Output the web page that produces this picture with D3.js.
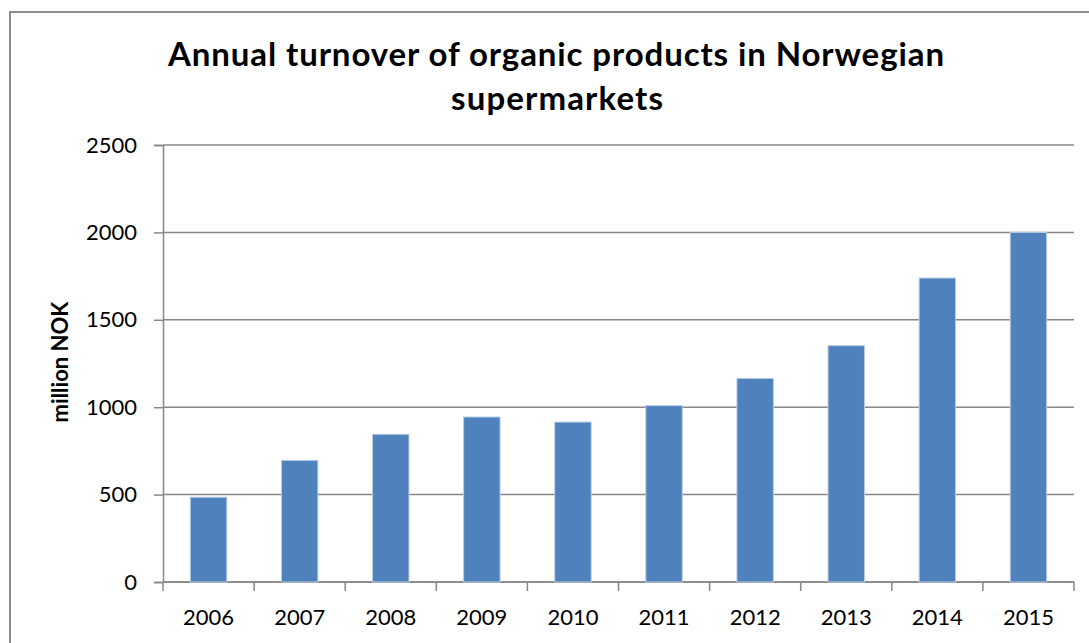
<!DOCTYPE html>
<html>
<head>
<meta charset="utf-8">
<script src="https://cdn.jsdelivr.net/npm/d3@7"></script>
<style>
  body { margin: 0; background: #fff; }
  svg { display: block; font-family: Lato, "Open Sans", sans-serif; }
</style>
</head>
<body>
<svg width="1089" height="643"></svg>
<script>
let years = ["2006", "2007", "2008", "2009", "2010", "2011", "2012", "2013", "2014", "2015"];
let turnover = [485, 696, 845, 944, 915, 1009, 1165, 1352, 1739, 2000];
let yTicks = [0, 500, 1000, 1500, 2000, 2500];

let data = years.map((y, i) => ({ year: y, value: turnover[i] }));

let svg = d3.select("svg");

// chart frame (only left and top edge show in the picture)
svg.append("path")
  .attr("d", "M10,643 L10,12 L1089,12")
  .attr("fill", "none")
  .attr("stroke", "#8c8c8c")
  .attr("stroke-width", 2);

let plotLeft = 163, plotRight = 1074, plotTop = 145, plotBottom = 582;

let xScale = d3.scaleBand()
  .domain(years)
  .range([plotLeft, plotRight])
  .paddingInner(0.6)
  .paddingOuter(0.3);

let yScale = d3.scaleLinear()
  .domain([0, 2500])
  .range([plotBottom, plotTop]);

// gridlines
svg.append("g")
  .selectAll("line")
  .data(yTicks)
  .enter()
  .append("line")
  .attr("x1", plotLeft)
  .attr("x2", plotRight)
  .attr("y1", d => yScale(d))
  .attr("y2", d => yScale(d))
  .attr("stroke", "#878787")
  .attr("stroke-width", 1.5);

// y axis
let yAxis = d3.axisLeft(yScale)
  .tickValues(yTicks)
  .tickFormat(d3.format("d"))
  .tickSize(9)
  .tickPadding(17);
let gy = svg.append("g")
  .attr("transform", "translate(" + plotLeft + ",0)")
  .call(yAxis);
gy.select(".domain").attr("stroke", "#878787").attr("stroke-width", 1.5);
gy.selectAll(".tick line").attr("stroke", "#878787").attr("stroke-width", 1.5);
gy.selectAll("text")
  .attr("font-size", 22)
  .attr("font-family", "Lato, sans-serif")
  .attr("fill", "#000");

// x axis with ticks between categories
let step = xScale.step();
let gx = svg.append("g")
  .attr("transform", "translate(0," + plotBottom + ")");
gx.append("line")
  .attr("x1", plotLeft).attr("x2", plotRight)
  .attr("stroke", "#878787").attr("stroke-width", 1.5);
gx.selectAll(".sep")
  .data(d3.range(years.length + 1))
  .enter()
  .append("line")
  .attr("class", "sep")
  .attr("x1", i => plotLeft + i * step)
  .attr("x2", i => plotLeft + i * step)
  .attr("y1", 0)
  .attr("y2", 9)
  .attr("stroke", "#878787")
  .attr("stroke-width", 1.5);
gx.selectAll(".lbl")
  .data(years)
  .enter()
  .append("text")
  .attr("class", "lbl")
  .attr("x", d => xScale(d) + xScale.bandwidth() / 2)
  .attr("y", 43)
  .attr("text-anchor", "middle")
  .attr("font-size", 22)
  .attr("fill", "#000")
  .text(d => d);

// bars
svg.append("g")
  .selectAll("rect")
  .data(data)
  .enter()
  .append("rect")
  .attr("x", d => xScale(d.year))
  .attr("width", xScale.bandwidth())
  .attr("y", d => yScale(d.value))
  .attr("height", d => plotBottom - yScale(d.value))
  .attr("fill", "#4f81bd")
  .attr("stroke", "#b9cde5")
  .attr("stroke-width", 1);

// title
let title = svg.append("g")
  .attr("font-size", 33)
  .attr("font-weight", "bold")
  .attr("fill", "#000");
title.append("text").attr("x", 168).attr("y", 66)
  .attr("textLength", 776)
  .attr("lengthAdjust", "spacing")
  .text("Annual turnover of organic products in Norwegian");
title.append("text").attr("x", 451).attr("y", 110)
  .attr("textLength", 212)
  .attr("lengthAdjust", "spacing")
  .text("supermarkets");

// y axis title
svg.append("text")
  .attr("transform", "translate(68,362) rotate(-90)")
  .attr("text-anchor", "middle")
  .attr("font-size", 22)
  .attr("font-weight", "bold")
  .attr("fill", "#000")
  .text("million NOK");
</script>
</body>
</html>
